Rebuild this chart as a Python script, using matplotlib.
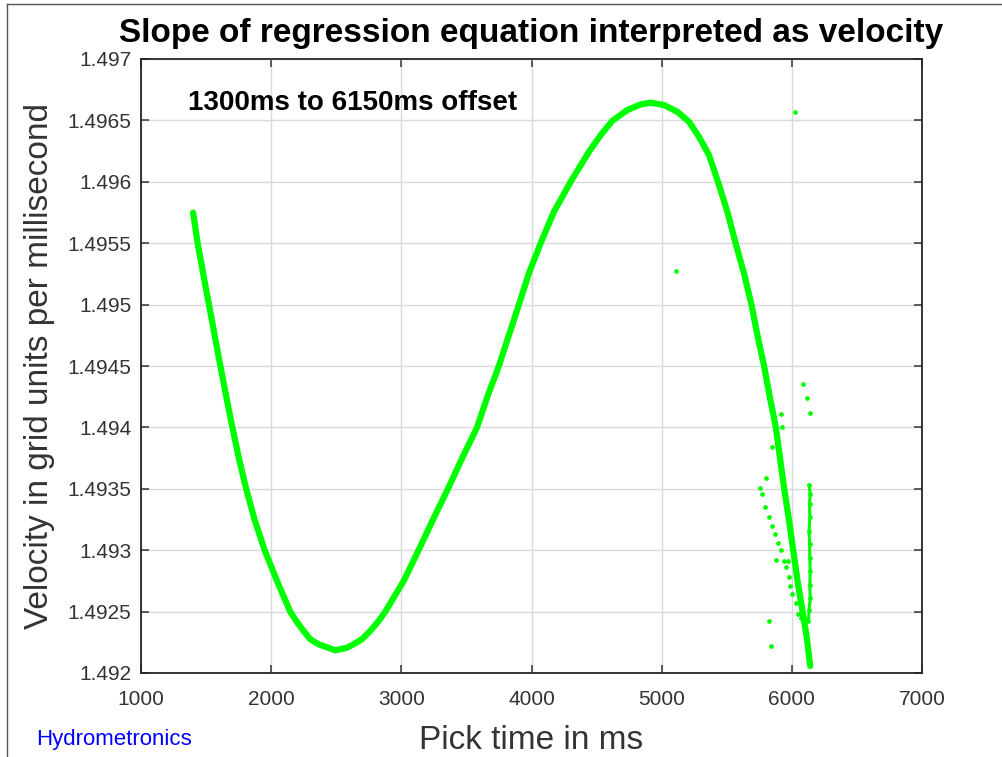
import matplotlib
matplotlib.use("Agg")
import matplotlib.pyplot as plt
from matplotlib.lines import Line2D

plt.rcParams['font.family'] = ['Liberation Sans', 'DejaVu Sans']

# main regression-slope curve (ms, velocity)
curve_t = [1400, 1435, 1478, 1522, 1566, 1610, 1655, 1702, 1752, 1808, 1872,
           1950, 2045, 2146, 2192, 2249, 2300, 2364, 2492, 2582, 2633, 2697,
           2762, 2826, 2877, 3018, 3133, 3245, 3360, 3470, 3582, 3664, 3749,
           3826, 3903, 3979, 4069, 4172, 4300, 4441, 4531, 4621, 4736, 4838,
           4915, 5018, 5121, 5210, 5287, 5364, 5433, 5505, 5569, 5633, 5690,
           5736, 5787, 5831, 5877, 5910, 5941, 5977, 6010, 6044, 6082, 6115,
           6141]
curve_v = [1.495749, 1.495500, 1.495250, 1.495000, 1.494750, 1.494500,
           1.494250, 1.494000, 1.493750, 1.493500, 1.493250, 1.493000,
           1.492750, 1.492500, 1.492424, 1.492343, 1.492275, 1.492234,
           1.492185, 1.492206, 1.492234, 1.492275, 1.492343, 1.492424,
           1.492500, 1.492750, 1.493001, 1.493253, 1.493504, 1.493756,
           1.494001, 1.494259, 1.494499, 1.494749, 1.494999, 1.495252,
           1.495497, 1.495755, 1.495999, 1.496244, 1.496380, 1.496497,
           1.496584, 1.496630, 1.496644, 1.496625, 1.496570, 1.496489,
           1.496366, 1.496217, 1.495999, 1.495755, 1.495497, 1.495252,
           1.494999, 1.494749, 1.494499, 1.494246, 1.494001, 1.493743,
           1.493504, 1.493253, 1.493003, 1.492750, 1.492506, 1.492288,
           1.492057]

# left offshoot near 5800-6070 ms
branch_t = [5756, 5774, 5795, 5825, 5851, 5869, 5890, 5915, 5879, 5936, 5972,
            5954, 5979, 5987, 6005, 6031, 6044, 6069]
branch_v = [1.49351, 1.49346, 1.49335, 1.49327, 1.49320, 1.49313, 1.49306,
            1.49300, 1.49292, 1.49291, 1.49291, 1.49286, 1.49278, 1.49271,
            1.49264, 1.49257, 1.49248, 1.49245]

# near-vertical column at ~6135 ms
column_t = [6133, 6141, 6136, 6138, 6133, 6136, 6138, 6141, 6138, 6141, 6133, 6126]
column_v = [1.49353, 1.49346, 1.49338, 1.49327, 1.49316, 1.49305, 1.49294,
            1.49283, 1.49272, 1.49261, 1.49251, 1.49242]

# stray points
stray_t = [6023, 5108, 6087, 6113, 6136, 5805, 5825, 5841, 5928, 5902, 5915, 5851]
stray_v = [1.49657, 1.49527, 1.49435, 1.49424, 1.49412, 1.49359, 1.49242,
           1.49222, 1.49400, 1.49374, 1.49411, 1.49384]

xticks = [1000, 2000, 3000, 4000, 5000, 6000, 7000]
yticks = [1.492, 1.4925, 1.493, 1.4935, 1.494, 1.4945, 1.495, 1.4955, 1.496,
          1.4965, 1.497]
ytick_labels = ['1.492', '1.4925', '1.493', '1.4935', '1.494', '1.4945',
                '1.495', '1.4955', '1.496', '1.4965', '1.497']

green = (0, 1, 0)
txt = '#333333'

fig = plt.figure(figsize=(10.03, 7.57), dpi=100)
ax = fig.add_axes([141 / 1003, 1 - 673 / 757, 781 / 1003, 614 / 757])

ax.plot(curve_t, curve_v, color=green, lw=4.5, solid_capstyle='round',
        solid_joinstyle='round', zorder=3)
ax.plot(branch_t, branch_v, 'o', color=green, ms=3.4, mew=0, zorder=3)
ax.plot(column_t, column_v, 'o', color=green, ms=3.4, mew=0, zorder=3)
ax.plot(column_t, column_v, color=green, lw=2.2, zorder=3)
ax.plot(stray_t, stray_v, 'o', color=green, ms=3.4, mew=0, zorder=3)

ax.set_xlim(1000, 7000)
ax.set_ylim(1.492, 1.497)
ax.set_xticks(xticks)
ax.set_yticks(yticks)
ax.set_yticklabels(ytick_labels)
ax.tick_params(direction='in', length=6, width=1.1, top=True, right=True,
               labelsize=15, labelcolor=txt, color=txt)
ax.tick_params(axis='y', pad=7)
ax.tick_params(axis='x', pad=12)
ax.grid(True, color='#d9d9d9', lw=1)
ax.set_axisbelow(True)
for s in ax.spines.values():
    s.set_color('#262626')
    s.set_linewidth(1.3)

ax.set_title('Slope of regression equation interpreted as velocity',
             fontsize=24, fontweight='bold', pad=12)
ax.set_xlabel('Pick time in ms', fontsize=24, color=txt, labelpad=12)
ax.set_ylabel('Velocity in grid units per millisecond', fontsize=24,
              color=txt, labelpad=9)

ax.text(0.060, 0.928, '1300ms to 6150ms offset', transform=ax.transAxes,
        fontsize=20, fontweight='bold', va='center', ha='left')

fig.text(36 / 1003, 1 - 740 / 757, 'Hydrometronics', color='blue',
         fontsize=16, va='center', ha='left')

# figure frame on left and top edges
fig.add_artist(Line2D([7 / 1003, 7 / 1003], [0, 1 - 4 / 757],
                      transform=fig.transFigure, color='#555555', lw=1))
fig.add_artist(Line2D([7 / 1003, 1], [1 - 4 / 757, 1 - 4 / 757],
                      transform=fig.transFigure, color='#555555', lw=1))

fig.savefig('out.png', dpi=100)
